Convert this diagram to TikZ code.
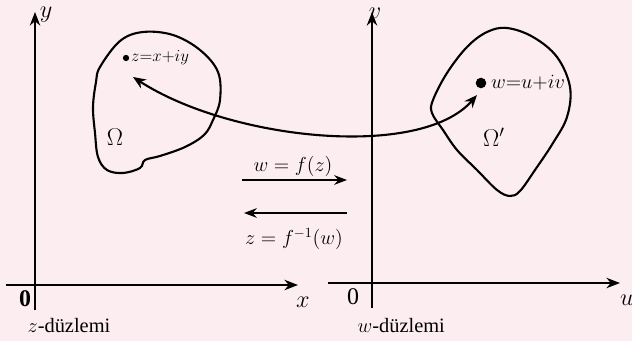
\documentclass[tikz,border=0pt]{standalone}
\usepackage{fontspec}
\setmainfont{Liberation Serif}
\usetikzlibrary{positioning, arrows.meta}
\definecolor{PaperPink}{HTML}{FCEDF0}

\begin{document}
\begin{tikzpicture}[
      x=0.025cm, y=-0.025cm,
      axis/.style={line width=1.3pt, -{Stealth[length=3.4mm, width=2.6mm]}},
      region/.style={line width=1.5pt, line join=round},
      map/.style={line width=1.5pt, {Stealth[length=3.2mm, width=2.6mm]}-{Stealth[length=3.2mm, width=2.6mm]}},
      ray/.style={line width=1.3pt, -{Stealth[length=3.2mm, width=2.4mm]}},
      lbl/.style={font=\fontsize{13}{15}\selectfont, inner sep=1pt},
      big/.style={font=\fontsize{17}{19}\selectfont, inner sep=1pt},
      plane/.style={font=\fontsize{14.5}{16}\selectfont, inner sep=1pt, anchor=west},
      pt/.style={circle, fill=black, inner sep=0pt}
  ]
    \fill[PaperPink] (0,0) rectangle (632,341);
    \useasboundingbox (0,0) rectangle (632,341);
    % z-plane
    \coordinate (zb) at (35,310); \coordinate (zt) at (35,12);
    \coordinate (zl) at (6,285); \coordinate (zr) at (298,285);
    \draw[axis](zb)--(zt); \draw[axis](zl)--(zr);
    \node[big, inner sep=0pt](zy) at (46,15){$y$};
    \node[big](zx) at (303,302){$x$};
    \node[big](z0) at (25,299){\textbf{0}};
    \node[plane](zname) at (26,326){$z$-düzlemi};
    \draw[region] plot[smooth cycle, tension=0.6] coordinates {
      (100,67) (120,41) (143,32) (173,35) (200,50) (218,72) (220,100)
      (213,120) (204,135) (185,147) (160,156) (145,160) (140,168)
      (123,173) (107,170) (98,157) (95,133) (93,107) (96,82)};
    \node[pt, minimum size=4.5pt](zdot) at (126,58){};
    \node[lbl, right=0pt of zdot](zlab){$z{=}x{+}iy$};
    \node[big](om) at (115,137){$\Omega$};
    % w-plane
    \coordinate (wb) at (372,308); \coordinate (wt) at (372,12);
    \coordinate (wl) at (328,283); \coordinate (wr) at (620,283);
    \draw[axis](wb)--(wt); \draw[axis](wl)--(wr);
    \node[big](wv) at (375,13){$v$};
    \node[big](wu) at (627,300){$u$};
    \node[big](w0) at (353,297){0};
    \node[plane](wname) at (356,326){$w$-düzlemi};
    \draw[region] plot[smooth cycle, tension=0.6] coordinates {
      (433,100) (447,73) (467,47) (487,32) (507,28) (533,37) (557,57)
      (570,87) (567,117) (553,143) (535,170) (520,191) (510,196)
      (497,190) (477,170) (457,150) (443,130) (432,113)};
    \node[pt, minimum size=7.5pt](wdot) at (481,83){};
    \node[lbl, right=2pt of wdot, font=\fontsize{15}{17}\selectfont](wlab){$w{=}u{+}iv$};
    \node[big](omp) at (494,137){$\Omega'$};
    % the two maps
    \coordinate (zend) at (133,77); \coordinate (wend) at (477,95);
    \draw[map](zend) .. controls (230,140) and (420,160) .. (wend);
    \coordinate (fa) at (242,180); \coordinate (fb) at (347,180);
    \coordinate (ga) at (347,213); \coordinate (gb) at (244,213);
    \draw[ray](fa)--(fb); \draw[ray](ga)--(gb);
    \node[lbl, font=\fontsize{14}{16}\selectfont](fl) at (293,166){$w = f(z)$};
    \node[lbl, font=\fontsize{14}{16}\selectfont](gl) at (294,239){$z = f^{-1}(w)$};
  \end{tikzpicture}
\end{document}
